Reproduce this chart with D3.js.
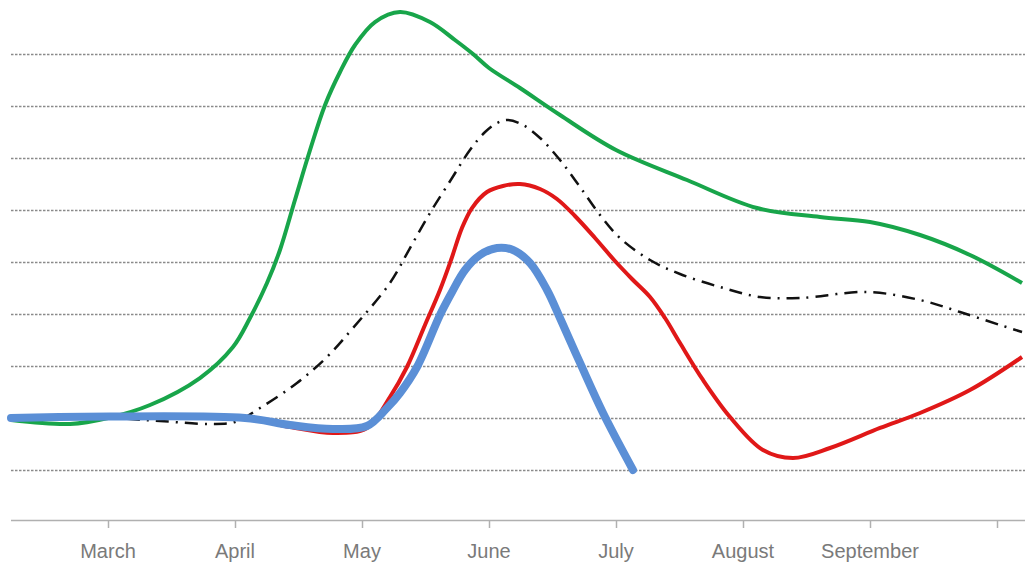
<!DOCTYPE html>
<html><head><meta charset="utf-8">
<script src="https://cdn.jsdelivr.net/npm/d3@7"></script>
<style>html,body{margin:0;padding:0;background:#fff;}svg{display:block;}</style>
</head><body>
<svg id="chart" width="1025" height="569"></svg>
<script>
// Month index: 0 = March, 1 = April, ... 7 = October (unlabeled tick)
const monthLabels = ["March","April","May","June","July","August","September"];
const tickMonths = [0,1,2,3,4,5,6,7];
const gridValues = [-10,0,10,20,30,40,50,60,70];

const greenSeries = [
  [-0.764,-0.38],[-0.299,-1.15],[0,0],[0.331,2.5],[0.724,7.69],[0.984,13.65],[1.118,19.23],[1.252,25.96],
  [1.354,32.31],[1.472,41.92],[1.591,51.54],[1.709,60.19],[1.827,66.54],[1.945,71.73],[2.102,76.15],
  [2.299,78.08],[2.535,76.15],[2.732,72.69],[2.874,70.0],[3.0,67.31],[3.244,63.46],[3.559,58.27],
  [4.0,51.54],[4.559,45.77],[5.110,40.38],[5.606,38.65],[6.0,37.69],[6.394,35.19],[6.787,31.35],[7.197,25.96]
];
const blackSeries = [
  [-0.764,0],[0,0],[0.409,-0.58],[0.803,-1.15],[1.0,-0.77],[1.197,1.92],[1.488,6.73],[1.724,11.73],
  [1.929,17.31],[2.220,25.96],[2.378,32.69],[2.535,39.42],[2.709,46.15],[2.850,51.54],[2.969,55.0],
  [3.063,56.73],[3.150,57.31],[3.268,56.35],[3.402,53.85],[3.559,49.62],[3.717,44.42],[3.874,39.04],
  [4.031,34.62],[4.268,30.38],[4.504,27.69],[4.819,25.19],[5.134,23.27],[5.449,23.08],[5.976,24.23],
  [6.394,22.69],[6.709,20.38],[7.024,17.88],[7.197,16.54]
];
const redSeries = [
  [-0.764,0],[1.079,0],[1.433,-1.73],[1.772,-2.88],[2.039,-1.92],[2.220,4.04],[2.354,9.81],[2.496,17.88],
  [2.614,24.62],[2.701,30.38],[2.787,36.54],[2.866,40.38],[2.984,43.46],[3.110,44.62],[3.244,45.0],
  [3.402,44.04],[3.535,42.12],[3.677,38.85],[3.835,34.62],[3.992,30.19],[4.126,26.73],[4.268,23.27],
  [4.386,19.23],[4.504,14.42],[4.685,7.31],[4.898,0.19],[5.157,-6.15],[5.394,-7.69],[5.685,-5.77],
  [6.079,-1.92],[6.394,0.96],[6.787,5.38],[7.197,11.73]
];
const blueSeries = [
  [-0.764,0],[1.079,0],[1.433,-1.35],[1.772,-2.12],[2.039,-1.54],[2.197,1.92],[2.299,4.81],[2.433,9.81],
  [2.614,19.81],[2.709,24.23],[2.811,28.46],[2.929,31.35],[3.063,32.69],[3.189,32.31],[3.323,29.81],
  [3.457,24.62],[3.559,19.23],[3.717,10.58],[3.898,0.96],[4.134,-10.0]
];

const svg = d3.select("#chart");
const x = d3.scaleLinear().domain([0,7]).range([108,997]);
const y = d3.scaleLinear().domain([-10,70]).range([470,54]);
const left = 11, right = 1025, axisY = 520;

// gridlines
svg.append("g").selectAll("line").data(gridValues).join("line")
  .attr("x1", left).attr("x2", right)
  .attr("y1", d => y(d)+0.5).attr("y2", d => y(d)+0.5)
  .attr("stroke", "#8a8a8a").attr("stroke-width", 1.3).attr("stroke-dasharray", "2.5,1.5");

// x axis
const axis = d3.axisBottom(x).tickValues(tickMonths).tickSize(8).tickFormat(() => "");
const ax = svg.append("g").attr("transform", `translate(0,${axisY})`).call(axis);
ax.select(".domain").remove();
ax.selectAll(".tick line").attr("stroke", "#b0b0b0").attr("stroke-width", 1.5);
svg.append("line").attr("x1", left).attr("x2", right).attr("y1", axisY+0.5).attr("y2", axisY+0.5)
  .attr("stroke", "#b0b0b0").attr("stroke-width", 1.5);

svg.append("g").selectAll("text").data(monthLabels).join("text")
  .attr("x", (d,i) => x(i)).attr("y", 558)
  .attr("text-anchor", "middle")
  .attr("font-family", "Liberation Sans, Arial, sans-serif")
  .attr("font-size", 20).attr("fill", "#7a7a7a")
  .text(d => d);

const line = d3.line().x(d => x(d[0])).y(d => y(d[1])).curve(d3.curveCatmullRom.alpha(0.5));

svg.append("path").datum(greenSeries).attr("d", line).attr("fill","none")
  .attr("stroke","#18a54a").attr("stroke-width",4);
svg.append("path").datum(blackSeries).attr("d", line).attr("fill","none")
  .attr("stroke","#111").attr("stroke-width",2.5).attr("stroke-dasharray","13,7,2,7");
svg.append("path").datum(redSeries).attr("d", line).attr("fill","none")
  .attr("stroke","#e01818").attr("stroke-width",4);
svg.append("path").datum(blueSeries).attr("d", line).attr("fill","none")
  .attr("stroke","#5b8fd6").attr("stroke-width",8).attr("stroke-linecap","round");
</script>
</body></html>
